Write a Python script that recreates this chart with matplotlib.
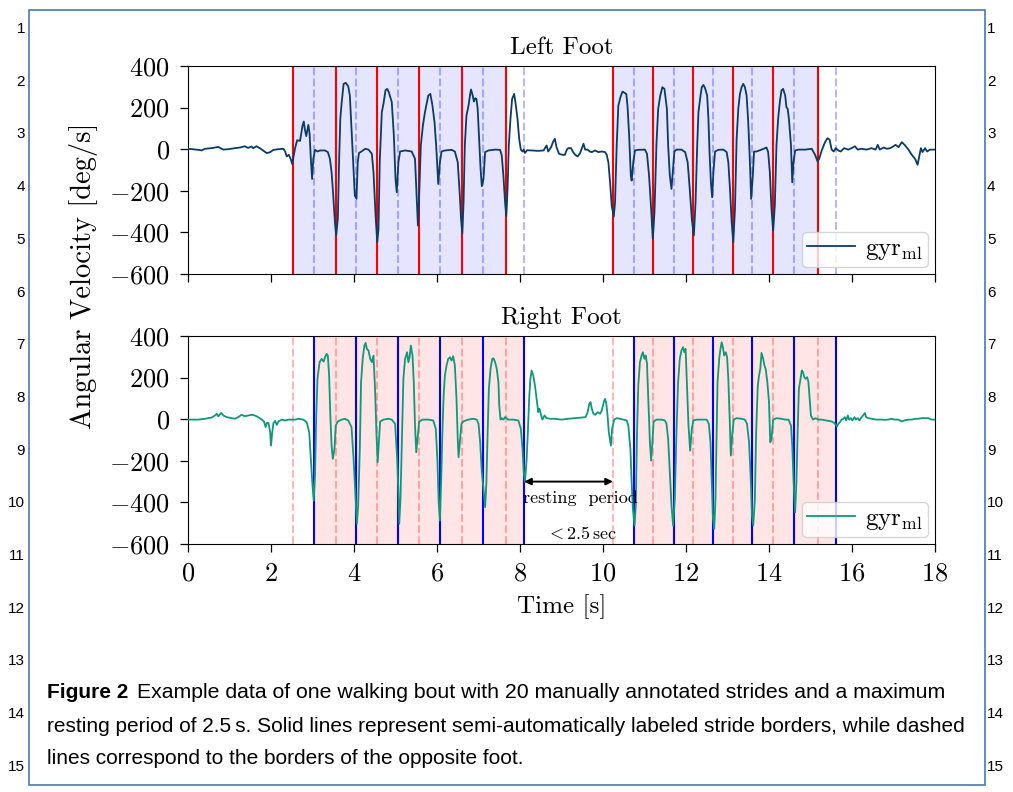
import matplotlib
matplotlib.use("Agg")
import matplotlib.pyplot as plt

plt.rcParams.update({
    "font.family": "serif",
    "font.serif": ["cmr10"],
    "mathtext.fontset": "cm",
    "axes.formatter.use_mathtext": True,
    "font.size": 18,
})

# gyroscope medio-lateral signal, left foot [s], [deg/s]
left_t = [
    0.00, 0.25, 0.33, 0.41, 0.57, 0.73, 0.85, 0.97, 1.13, 1.25, 1.37, 1.45, 1.53, 1.57,
    1.65, 1.73, 1.82, 1.90, 1.98, 2.06, 2.18, 2.30, 2.34, 2.38, 2.43, 2.48, 2.51, 2.58,
    2.63, 2.70, 2.76, 2.79, 2.82, 2.85, 2.90, 2.93, 2.96, 2.99, 3.02, 3.06, 3.12, 3.18,
    3.30, 3.37, 3.42, 3.46, 3.50, 3.54, 3.57, 3.61, 3.64, 3.67, 3.70, 3.75, 3.80, 3.86,
    3.90, 3.94, 3.98, 4.02, 4.06, 4.09, 4.12, 4.18, 4.27, 4.35, 4.43, 4.47, 4.52, 4.56,
    4.59, 4.62, 4.67, 4.71, 4.76, 4.80, 4.84, 4.91, 4.96, 5.00, 5.03, 5.07, 5.11, 5.23,
    5.39, 5.47, 5.51, 5.54, 5.57, 5.61, 5.66, 5.71, 5.79, 5.84, 5.89, 5.94, 5.98, 6.03,
    6.07, 6.11, 6.19, 6.35, 6.43, 6.50, 6.55, 6.58, 6.61, 6.64, 6.67, 6.71, 6.76, 6.80,
    6.82, 6.86, 6.89, 6.92, 6.95, 6.98, 7.01, 7.05, 7.08, 7.12, 7.16, 7.24, 7.40, 7.52,
    7.56, 7.60, 7.64, 7.67, 7.70, 7.73, 7.77, 7.81, 7.86, 7.90, 7.94, 7.98, 8.02, 8.06,
    8.09, 8.12, 8.17, 8.28, 8.44, 8.57, 8.60, 8.64, 8.68, 8.75, 8.80, 8.84, 8.88, 8.94,
    9.02, 9.08, 9.12, 9.16, 9.23, 9.28, 9.33, 9.39, 9.45, 9.50, 9.53, 9.57, 9.63, 9.68,
    9.73, 9.81, 9.89, 9.97, 10.05, 10.09, 10.13, 10.17, 10.21, 10.26, 10.29, 10.33, 10.37,
    10.42, 10.47, 10.52, 10.56, 10.59, 10.63, 10.67, 10.69, 10.73, 10.77, 10.85, 10.97,
    11.01, 11.06, 11.11, 11.16, 11.20, 11.24, 11.29, 11.33, 11.38, 11.43, 11.48, 11.51,
    11.54, 11.57, 11.61, 11.65, 11.68, 11.72, 11.77, 11.89, 11.98, 12.04, 12.09, 12.14,
    12.19, 12.23, 12.27, 12.30, 12.34, 12.38, 12.42, 12.46, 12.51, 12.54, 12.57, 12.60,
    12.63, 12.66, 12.70, 12.78, 12.90, 12.98, 13.02, 13.06, 13.10, 13.14, 13.18, 13.22,
    13.26, 13.30, 13.34, 13.38, 13.42, 13.46, 13.50, 13.54, 13.57, 13.61, 13.64, 13.70,
    13.82, 13.94, 13.98, 14.02, 14.06, 14.10, 14.14, 14.18, 14.22, 14.26, 14.30, 14.34,
    14.39, 14.42, 14.45, 14.48, 14.53, 14.56, 14.59, 14.63, 14.71, 14.87, 15.03, 15.11,
    15.17, 15.21, 15.27, 15.35, 15.41, 15.46, 15.51, 15.56, 15.61, 15.67, 15.73, 15.81,
    15.91, 15.99, 16.07, 16.14, 16.23, 16.35, 16.47, 16.57, 16.62, 16.67, 16.76, 16.84,
    16.92, 17.00, 17.05, 17.12, 17.20, 17.28, 17.36, 17.44, 17.52, 17.58, 17.62, 17.66,
    17.70, 17.76, 17.81, 17.88, 17.96, 18.00,
]
left_gyr = [
    2, -3, -6, 2, 5, 11, -2, 0, 5, 8, 14, 6, 13, 5,
    14, 5, -8, -19, -14, -3, 0, 2, -11, -35, -27, -50, -71, 5,
    43, 40, 114, 133, 90, 63, 117, 74, -46, -143, -46, -3, -11, -6,
    -6, -14, -46, -111, -223, -351, -415, -335, -63, 146, 218, 314, 319, 303,
    258, 98, -63, -223, -239, -63, -18, -11, 2, -2, -22, -111, -319, -447,
    -383, -63, 178, 218, 284, 290, 274, 226, 66, -143, -207, -63, -11, -6,
    -11, -46, -223, -367, -223, 18, 114, 178, 258, 266, 210, 130, 18, -167,
    -63, -11, -6, -3, -11, -63, -223, -335, -407, -255, 18, 162, 210, 266,
    287, 258, 229, 245, 242, 194, 66, -95, -178, -143, -14, -6, -2, -3,
    -30, -127, -255, -322, -191, 18, 146, 242, 266, 210, 146, 50, -2, -11,
    -2, -18, -5, -6, -8, -6, 5, 18, -11, 10, 37, 50, 10, -22,
    -27, -27, -6, 5, 5, -14, -27, -35, -18, 10, 26, -2, -2, -11,
    -14, -6, -14, -11, -14, -27, -63, -159, -271, -324, -255, 18, 210,
    250, 277, 271, 266, 210, 66, -127, -151, -63, -6, -3, -2,
    -2, -22, -127, -287, -431, -303, 34, 194, 258, 298, 290, 242,
    194, 18, -127, -191, -111, -11, -2, -2, -14, -63, -191, -335,
    -415, -255, 18, 178, 242, 298, 309, 293, 258, 146, -30, -159,
    -231, -111, -11, -3, -2, -14, -63, -191, -351, -447, -287, 50,
    194, 266, 298, 314, 298, 258, 130, -63, -239, -127, -11, -11,
    -2, 8, -14, -111, -287, -391, -271, 18, 146, 226, 282, 290,
    258, 202, 194, 146, 18, -159, -63, -6, -2, -2, 2, -27,
    -59, -46, -6, 34, 53, 46, -2, -11, 5, -6, -11, 5,
    -2, 5, 14, -2, 2, -2, 5, -2, 21, -2, 8, 2,
    5, 14, 21, 10, 34, 18, -2, -27, -46, -75, -34, 5,
    -14, 5, -11, -2, -2, -2,
]

# gyroscope medio-lateral signal, right foot [s], [deg/s]
right_t = [
    0.00, 0.25, 0.41, 0.49, 0.57, 0.65, 0.69, 0.73, 0.80, 0.85, 0.93, 1.05, 1.13, 1.21,
    1.29, 1.37, 1.45, 1.53, 1.61, 1.69, 1.78, 1.83, 1.87, 1.90, 1.94, 1.98, 2.00, 2.03,
    2.06, 2.10, 2.14, 2.18, 2.26, 2.34, 2.42, 2.50, 2.58, 2.66, 2.78, 2.86, 2.92, 2.96,
    3.00, 3.03, 3.06, 3.09, 3.12, 3.17, 3.22, 3.27, 3.30, 3.34, 3.37, 3.40, 3.43, 3.46,
    3.49, 3.53, 3.56, 3.61, 3.70, 3.78, 3.86, 3.94, 3.99, 4.04, 4.07, 4.10, 4.14, 4.17,
    4.21, 4.25, 4.28, 4.31, 4.35, 4.39, 4.43, 4.47, 4.51, 4.54, 4.57, 4.60, 4.63, 4.71,
    4.83, 4.91, 4.99, 5.04, 5.07, 5.09, 5.12, 5.16, 5.19, 5.23, 5.28, 5.31, 5.34, 5.37,
    5.41, 5.44, 5.47, 5.50, 5.53, 5.57, 5.65, 5.79, 5.91, 5.97, 6.01, 6.04, 6.07, 6.10,
    6.13, 6.16, 6.19, 6.23, 6.27, 6.31, 6.35, 6.39, 6.43, 6.47, 6.50, 6.52, 6.55, 6.59,
    6.63, 6.75, 6.88, 6.96, 7.00, 7.04, 7.08, 7.12, 7.16, 7.19, 7.22, 7.25, 7.29, 7.33,
    7.36, 7.40, 7.44, 7.48, 7.50, 7.53, 7.56, 7.60, 7.64, 7.72, 7.84, 7.96, 8.02, 8.06,
    8.09, 8.12, 8.16, 8.19, 8.22, 8.25, 8.28, 8.32, 8.36, 8.40, 8.44, 8.47, 8.51, 8.54,
    8.59, 8.64, 8.72, 8.84, 9.00, 9.16, 9.33, 9.49, 9.58, 9.63, 9.67, 9.70, 9.73, 9.77,
    9.81, 9.87, 9.93, 9.97, 10.02, 10.05, 10.08, 10.11, 10.14, 10.19, 10.22, 10.27, 10.33,
    10.41, 10.49, 10.57, 10.61, 10.66, 10.69, 10.72, 10.76, 10.79, 10.82, 10.85, 10.89,
    10.93, 10.96, 11.00, 11.03, 11.06, 11.09, 11.13, 11.16, 11.19, 11.22, 11.29, 11.41,
    11.49, 11.53, 11.57, 11.61, 11.65, 11.69, 11.73, 11.77, 11.81, 11.85, 11.89, 11.93,
    11.96, 11.99, 12.02, 12.06, 12.10, 12.14, 12.18, 12.26, 12.38, 12.50, 12.55, 12.59,
    12.62, 12.65, 12.68, 12.71, 12.74, 12.76, 12.80, 12.83, 12.86, 12.89, 12.92, 12.96,
    12.99, 13.02, 13.05, 13.08, 13.12, 13.15, 13.22, 13.34, 13.42, 13.47, 13.52, 13.56,
    13.59, 13.62, 13.66, 13.69, 13.73, 13.76, 13.79, 13.82, 13.86, 13.89, 13.92, 13.96,
    14.00, 14.03, 14.06, 14.10, 14.18, 14.30, 14.39, 14.47, 14.53, 14.56, 14.59, 14.63,
    14.66, 14.69, 14.72, 14.76, 14.79, 14.82, 14.85, 14.88, 14.92, 14.95, 14.98, 15.01,
    15.06, 15.12, 15.19, 15.27, 15.35, 15.43, 15.51, 15.57, 15.61, 15.64, 15.67, 15.71,
    15.75, 15.79, 15.83, 15.86, 15.90, 15.93, 15.97, 16.01, 16.06, 16.09, 16.14, 16.18,
    16.23, 16.28, 16.31, 16.34, 16.39, 16.47, 16.59, 16.71, 16.79, 16.87, 16.95, 17.04,
    17.12, 17.20, 17.28, 17.36, 17.44, 17.52, 17.60, 17.68, 17.76, 17.84, 17.92, 18.00,
]
right_gyr = [
    -2, -2, 2, 5, 8, 18, 26, 14, 30, 18, 10, 5, 2, 10,
    21, 14, 18, 21, 18, 10, -2, -11, -38, -18, -18, -63, -127, -63,
    -18, -8, -27, -11, -2, -6, -2, -2, -2, 2, -2, -14, -63, -191,
    -319, -391, -271, 18, 194, 274, 290, 277, 298, 314, 306, 210, 18, -127,
    -191, -143, -30, -11, -2, 2, -6, -38, -191, -383, -503, -415, -143, 178,
    290, 354, 367, 338, 330, 290, 274, 306, 130, -63, -207, -111, -11, -2,
    2, -2, -22, -191, -351, -503, -383, -63, 194, 290, 322, 274, 298, 354,
    306, 178, -30, -159, -95, -11, -2, -2, -6, -46, -200, -400, -487, -303,
    -63, 114, 210, 258, 290, 298, 282, 303, 258, 98, -95, -183, -111, -22,
    -11, -2, 2, -2, -22, -111, -255, -335, -423, -303, -63, 146, 242, 290,
    293, 274, 242, 178, 66, -2, 5, -2, 10, -2, -2, -6, -46, -143,
    -255, -303, -191, -63, 98, 194, 234, 210, 162, 98, 34, 50, 18, -2,
    18, 5, 2, 2, -2, 2, 5, 8, 10, 34, 74, 82, 50, 26,
    21, 34, 26, 42, 82, 98, 74, 18, -63, -127, -46, -2, 5,
    2, -2, -6, -30, -143, -303, -431, -511, -415, -63, 162, 274,
    306, 322, 290, 306, 266, 98, -111, -199, -111, -11, -2, -2,
    -6, -22, -95, -255, -415, -511, -383, -63, 178, 290, 330, 346,
    322, 338, 178, -30, -151, -46, -6, -2, -2, -2, -22, -111,
    -303, -479, -527, -383, -63, 178, 290, 338, 370, 346, 306, 322,
    298, 194, 18, -175, -63, -2, 5, 2, -2, -22, -111, -287,
    -463, -511, -383, -63, 162, 210, 242, 319, 290, 258, 242, 178,
    82, -111, -95, -2, 5, 2, -2, -2, -30, -127, -287, -447,
    -303, -63, 146, 194, 234, 226, 202, 194, 202, 178, 98, 18,
    -2, 5, -2, -2, -5, -8, -11, -18, -27, -35, -22, -14,
    -2, 2, 10, -6, 18, -2, 5, -6, 10, -2, 5, -6,
    10, 21, 30, 10, 5, 2, -2, -2, -3, -2, 2, -2,
    -2, -11, -5, -2, -2, 2, 2, 5, 5, 5, -2, -2,
]

# labeled stride borders per walking sequence [s]
left_borders = [[2.54, 3.56, 4.55, 5.56, 6.60, 7.66],
                [10.24, 11.20, 12.18, 13.13, 14.10, 15.17]]
right_borders = [[3.04, 4.06, 5.07, 6.07, 7.12, 8.10],
                 [10.75, 11.71, 12.66, 13.59, 14.61, 15.61]]

y_ticks = [-600, -400, -200, 0, 200, 400]
x_ticks = [0, 2, 4, 6, 8, 10, 12, 14, 16, 18]

caption_lines = [
    "Example data of one walking bout with 20 manually annotated strides and a maximum",
    "resting period of 2.5\u2009s. Solid lines represent semi-automatically labeled stride borders, while dashed",
    "lines correspond to the borders of the opposite foot.",
]

W, H = 1013, 792
SANS = ["Liberation Sans", "DejaVu Sans"]
BOX_COLOR = "#4d78a8"


def fx(px):
    return px / W


def fy(py):
    return 1 - py / H


def plot_foot(ax, t, gyr, own, other, line_color, border_color, span_color, title):
    """Stride borders of this foot solid, the other foot's dashed."""
    for bout in own:
        ax.axvspan(bout[0], bout[-1], color=span_color, alpha=0.1, lw=0, zorder=0)
    for bout in other:
        for b in bout:
            ax.axvline(b, color=span_color, alpha=0.28, lw=1.5, ls="--", zorder=1)
    for bout in own:
        for b in bout:
            ax.axvline(b, color=border_color, lw=1.5, zorder=2)
    ax.plot(t, gyr, color=line_color, lw=1.3, label=r"gyr$_{\rm ml}$", zorder=3)
    ax.set_xlim(0, 18)
    ax.set_ylim(-600, 400)
    ax.set_xticks(x_ticks)
    ax.set_yticks(y_ticks)
    ax.tick_params(direction="out", length=6, width=0.9, pad=7, labelsize=19)
    ax.set_title(title, fontsize=18, pad=9)
    ax.legend(loc="lower right", fontsize=18, handlelength=1.9, borderpad=0.2,
              handletextpad=0.4, borderaxespad=0.3, fancybox=True)


fig = plt.figure(figsize=(W / 100, H / 100), dpi=100)

ax_l = fig.add_axes([fx(188), fy(274), fx(935) - fx(188), fy(66) - fy(274)])
ax_r = fig.add_axes([fx(188), fy(544), fx(935) - fx(188), fy(336) - fy(544)])

plot_foot(ax_l, left_t, left_gyr, left_borders, right_borders,
          "#0b3b66", "#ff0000", "#0000ff", "Left Foot")
plot_foot(ax_r, right_t, right_gyr, right_borders, left_borders,
          "#11977a", "#0000ff", "#ff0000", "Right Foot")

ax_l.tick_params(labelbottom=False)
ax_r.set_xlabel("Time [s]", fontsize=18, labelpad=6)
fig.text(fx(83), fy(276), "Angular Velocity [deg/s]", rotation=90,
         ha="center", va="center", fontsize=20.5)

# resting period between the two walking sequences
rest_start = right_borders[0][-1]
rest_end = left_borders[1][0]
ax_r.annotate("", xy=(rest_start, -300), xytext=(rest_end, -300),
              arrowprops=dict(arrowstyle="<|-|>", color="black", lw=1.4,
                              mutation_scale=10, shrinkA=0, shrinkB=0), zorder=5)
ax_r.text(9.45, -378, "resting  period", ha="center", va="center", fontsize=13, zorder=5)
ax_r.text(9.49, -551, r"$<2.5\,\mathrm{sec}$", ha="center", va="center", fontsize=13, zorder=5)

# page frame and line numbers
fig.add_artist(plt.Rectangle((fx(29), fy(785)), fx(985) - fx(29), fy(10) - fy(785),
                             transform=fig.transFigure, fill=False,
                             edgecolor=BOX_COLOR, lw=1.2))
for n in range(1, 16):
    y = fy(29 + (n - 1) * 52.7)
    fig.text(fx(25), y, str(n), ha="right", va="center", fontsize=11, family=SANS)
    fig.text(fx(987), y, str(n), ha="left", va="center", fontsize=11, family=SANS)

# caption
cap_y = [693, 727, 759]
head = fig.text(fx(47), fy(cap_y[0]), "Figure 2", ha="left", va="center",
                fontsize=15, weight="bold", family=SANS)
fig.canvas.draw()
bb = head.get_window_extent()
fig.text((bb.x1 + 9) / W, fy(cap_y[0]), caption_lines[0], ha="left", va="center",
         fontsize=15.3, family=SANS)
for line, y in zip(caption_lines[1:], cap_y[1:]):
    fig.text(fx(47), fy(y), line, ha="left", va="center", fontsize=15, family=SANS)

fig.savefig("out.png", dpi=100)
